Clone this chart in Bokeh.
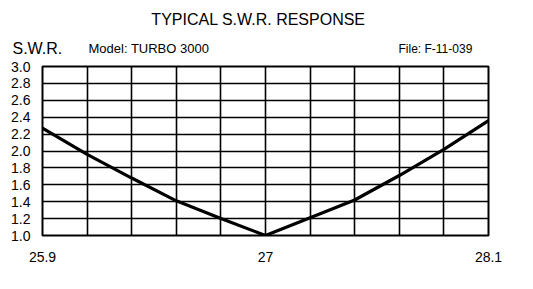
from bokeh.plotting import figure
from bokeh.layouts import column
from bokeh.models import FixedTicker, Range1d
from bokeh.core.properties import value
from bokeh.embed import file_html
from bokeh.resources import INLINE

freq = [25.9, 26.12, 26.34, 26.56, 26.78, 27.0, 27.22, 27.44, 27.66, 27.88, 28.1]
swr = [2.27, 1.96, 1.68, 1.41, 1.20, 1.0, 1.21, 1.42, 1.71, 2.02, 2.36]
x_tick_labels = {25.9: "25.9", 27: "27", 28.1: "28.1"}
y_ticks = [1.0, 1.2, 1.4, 1.6, 1.8, 2.0, 2.2, 2.4, 2.6, 2.8, 3.0]
x_grid = [25.9, 26.12, 26.34, 26.56, 26.78, 27.0, 27.22, 27.44, 27.66, 27.88, 28.1]

title_text = "TYPICAL S.W.R. RESPONSE"
ylabel_text = "S.W.R."
model_text = "Model:  TURBO 3000"
file_text = "File:  F-11-039"

FONT = "Liberation Sans"
HEADER_H = 56

# ---- header strip (pixel coordinates, y measured upward from its bottom) ----
h = figure(width=533, height=HEADER_H, output_backend="svg", toolbar_location=None,
           x_range=Range1d(0, 533), y_range=Range1d(0, HEADER_H),
           min_border=0, min_border_left=0, min_border_right=0,
           min_border_top=0, min_border_bottom=0)
h.frame_align = False
h.axis.visible = False
h.grid.visible = False
h.outline_line_color = None
h.background_fill_color = "white"
h.border_fill_color = "white"

def header_text(x, y, txt, size, align="left"):
    h.text(x=[x], y=[y], text=[txt], text_font=value(FONT), text_font_size=size,
           text_color="black", text_align=align, text_baseline="alphabetic")

header_text(258, HEADER_H - 19, title_text, "16px", "center")
header_text(12, HEADER_H - 48, ylabel_text, "16px")
header_text(88, HEADER_H - 48, model_text, "13px")
header_text(398, HEADER_H - 48, file_text, "12px")

# ---- main chart ----
p = figure(width=533, height=289 - HEADER_H, output_backend="svg", toolbar_location=None,
           x_range=Range1d(25.9, 28.1), y_range=Range1d(1.0, 3.0),
           min_border_left=42, min_border_right=45, min_border_top=10, min_border_bottom=54)
p.frame_align = False

p.outline_line_color = "black"
p.outline_line_width = 2
p.background_fill_color = "white"
p.border_fill_color = "white"

p.xaxis.ticker = FixedTicker(ticks=list(x_tick_labels.keys()))
p.xaxis.major_label_overrides = x_tick_labels
p.yaxis.ticker = FixedTicker(ticks=y_ticks)
p.yaxis.major_label_overrides = {t: f"{t:.1f}" for t in y_ticks}
for ax in (p.xaxis, p.yaxis):
    ax.axis_line_color = None
    ax.major_tick_line_color = None
    ax.minor_tick_line_color = None
    ax.major_label_text_font = FONT
    ax.major_label_text_color = "black"
    ax.major_label_text_font_size = "14px"
p.xaxis.major_label_standoff = 10
p.yaxis.major_label_standoff = 6

p.xgrid.ticker = FixedTicker(ticks=x_grid)
p.ygrid.ticker = FixedTicker(ticks=y_ticks)
for g in (p.xgrid, p.ygrid):
    g.grid_line_color = "black"
    g.grid_line_width = 1.6
    g.grid_line_alpha = 1.0

p.line(freq, swr, line_color="black", line_width=3.2)

layout = column(h, p, spacing=0)
open("out.html", "w").write(file_html(layout, INLINE))
